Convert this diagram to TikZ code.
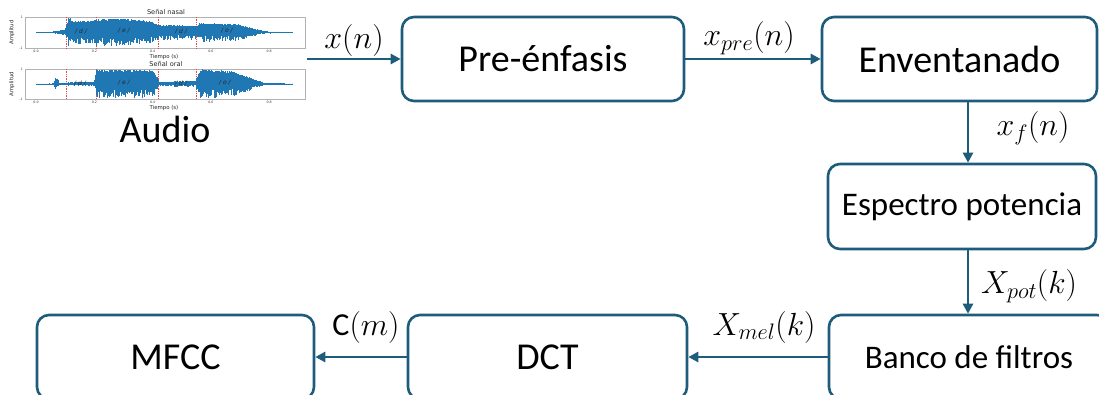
\documentclass[tikz,border=0pt]{standalone}
\usepackage{fix-cm}
\usepackage{fontspec}
\setmainfont{Carlito}
\newfontfamily\plotfont{DejaVu Sans}
\usetikzlibrary{arrows.meta}

\definecolor{boxcol}{RGB}{30,92,124}
\definecolor{wavecol}{RGB}{31,119,180}
\definecolor{cutcol}{RGB}{230,70,70}

% one waveform: #1 centre line, #2 half height, #3 list of t0/t1/a0/a1 envelope segments
\newcommand\drawwave[3]{%
  \draw[wavecol, line width=0.6pt] (36,#1) -- (36+291.5*0.88,#1);
  \foreach \ta/\tb/\aa/\ab in {#3}{%
    \pgfmathtruncatemacro\wn{max(1,round((\tb-\ta)/0.0025))}%
    \foreach \wi in {0,...,\wn}{%
      \pgfmathsetmacro\wx{36+291.5*(\ta+(\tb-\ta)*\wi/\wn)}%
      \pgfmathsetmacro\wa{#2*(\aa+(\ab-\aa)*\wi/\wn)}%
      \pgfmathsetmacro\wup{\wa*(0.85+0.15*rnd)}%
      \pgfmathsetmacro\wdn{\wa*(0.4+0.6*rnd)}%
      \draw[wv] (\wx,#1-\wup) -- (\wx,#1+\wdn);
    }%
  }%
}

% axes frame, labels and phoneme cuts of one panel: #1 top, #2 bottom, #3 title
\newcommand\drawpanel[3]{%
  \draw[gray!60, line width=0.4pt] (25,#1) rectangle (305,#2);
  \node[ptitle] at (166,#1-5) {#3};
  \node[paxis] at (164,#2+9) {Tiempo (s)};
  \node[paxis, rotate=90] at (12,{(#1+#2)/2}) {Amplitud};
  \node[ptick] at (22,#1) {1};
  \node[ptick] at (21,#2) {-1};
  \foreach \tk/\tl in {0/0.0,1/0.2,2/0.4,3/0.6,4/0.8}
    \node[ptick] at (36+58.3*\tk,#2+3.5) {\tl};
  \foreach \tc in {0.103,0.206,0.42,0.55}
    \draw[cutcol, line width=0.45pt, dash pattern=on 1pt off 0.7pt]
      (36+291.5*\tc,#1) -- (36+291.5*\tc,#2);
}

\tikzset{
  box/.style={draw=boxcol, line width=2.6pt, rounded corners=12pt,
    minimum height=84pt, inner sep=0pt, text=black},
  bigtxt/.style={font=\fontsize{38}{42}\selectfont},
  midtxt/.style={font=\fontsize{33}{38}\selectfont},
  arr/.style={draw=boxcol, line width=2.8pt, -{Triangle[length=10pt,width=10pt]}},
  lbl/.style={font=\fontsize{32}{36}\selectfont, inner sep=0pt},
  wv/.style={draw=wavecol, line width=0.45pt},
  ptitle/.style={font=\plotfont\fontsize{6.6}{8}\selectfont, inner sep=0pt, text=black!85},
  paxis/.style={font=\plotfont\fontsize{5.4}{6}\selectfont, inner sep=0pt, text=black!85},
  ptick/.style={font=\plotfont\fontsize{3.2}{4}\selectfont, inner sep=0pt, text=black!80},
  phon/.style={font=\plotfont\itshape\fontsize{6}{7}\selectfont, inner sep=0pt, text=black!85},
}

\begin{document}
\begin{tikzpicture}[x=1pt, y=-1pt]
  \useasboundingbox (0,0) rectangle (1099,394);
  \clip (0,0) rectangle (1099,394);

  % ---- audio panels ----
  \pgfmathsetseed{11}
  \drawpanel{17}{48}{Señal nasal}
  \drawwave{32.5}{15.5}{0/0.05/0.02/0.05, 0.05/0.1/0.05/0.2, 0.1/0.112/0.3/0.85,
    0.112/0.116/1.0/1.0, 0.116/0.2/0.75/0.8, 0.2/0.3/0.85/0.95, 0.3/0.4/0.92/0.75,
    0.4/0.42/0.72/0.45, 0.42/0.55/0.5/0.45, 0.55/0.56/0.45/0.6, 0.56/0.7/0.62/0.55,
    0.7/0.78/0.5/0.1, 0.78/0.88/0.08/0.03}
  \node[phon] at (81,31) {/ d /};
  \node[phon] at (124,31) {/ e /};
  \node[phon] at (181,31) {/ d /};
  \node[phon] at (227,31) {/ o /};

  \drawpanel{69}{99}{Señal oral}
  \drawwave{84}{15}{0/0.06/0.02/0.04, 0.06/0.065/0.05/0.4, 0.065/0.075/0.45/0.3,
    0.075/0.1/0.06/0.1, 0.1/0.2/0.1/0.15, 0.2/0.206/0.3/0.95, 0.206/0.4/0.97/0.95,
    0.4/0.42/0.9/0.3, 0.42/0.55/0.15/0.2, 0.55/0.565/0.4/1.0, 0.565/0.68/1.0/0.85,
    0.68/0.78/0.8/0.1, 0.78/0.88/0.08/0.02}
  \node[phon] at (80,83) {/ d /};
  \node[phon] at (124,83) {/ e /};
  \node[phon] at (181,83) {/ d /};
  \node[phon] at (225,83) {/ o /};

  \node[bigtxt, inner sep=0pt] (audio) at (165,129) {Audio};

  % ---- processing blocks ----
  \node[box, bigtxt, minimum width=282pt] (pre) at (543,59) {Pre-énfasis};
  \node[box, bigtxt, minimum width=275pt] (env) at (959.5,59) {Enventanado};
  \node[box, midtxt, minimum width=268pt, minimum height=85pt] (esp) at (962,206.5) {Espectro potencia};
  \node[box, midtxt, minimum width=280pt] (ban) at (969,357) {Banco de filtros};
  \node[box, bigtxt, minimum width=279pt] (dct) at (547.5,357) {DCT};
  \node[box, bigtxt, minimum width=277pt] (mfcc) at (175.5,357) {MFCC};

  % ---- connectors ----
  \coordinate (src) at (307,59);
  \draw[arr] (src) -- (pre.west);
  \draw[arr] (pre.east) -- (env.west);
  \draw[arr] ([xshift=8.5pt]env.south) -- ([xshift=8.5pt]env.south |- esp.north);
  \draw[arr] ([xshift=6pt]esp.south) -- ([xshift=6pt]esp.south |- ban.north);
  \draw[arr] (ban.west) -- (dct.east);
  \draw[arr] (dct.west) -- (mfcc.east);

  % ---- signal labels ----
  \node[lbl] (lx) at (354,40) {$x(n)$};
  \node[lbl] (lpre) at (749,38) {$x_{pre}(n)$};
  \node[lbl] (lf) at (1033,128) {$x_f(n)$};
  \node[lbl] (lpot) at (1029,286) {$X_{pot}(k)$};
  \node[lbl] (lmel) at (764,327) {$X_{mel}(k)$};
  \node[lbl] (lc) at (366,327) {$\mathrm{C}(m)$};
\end{tikzpicture}
\end{document}
